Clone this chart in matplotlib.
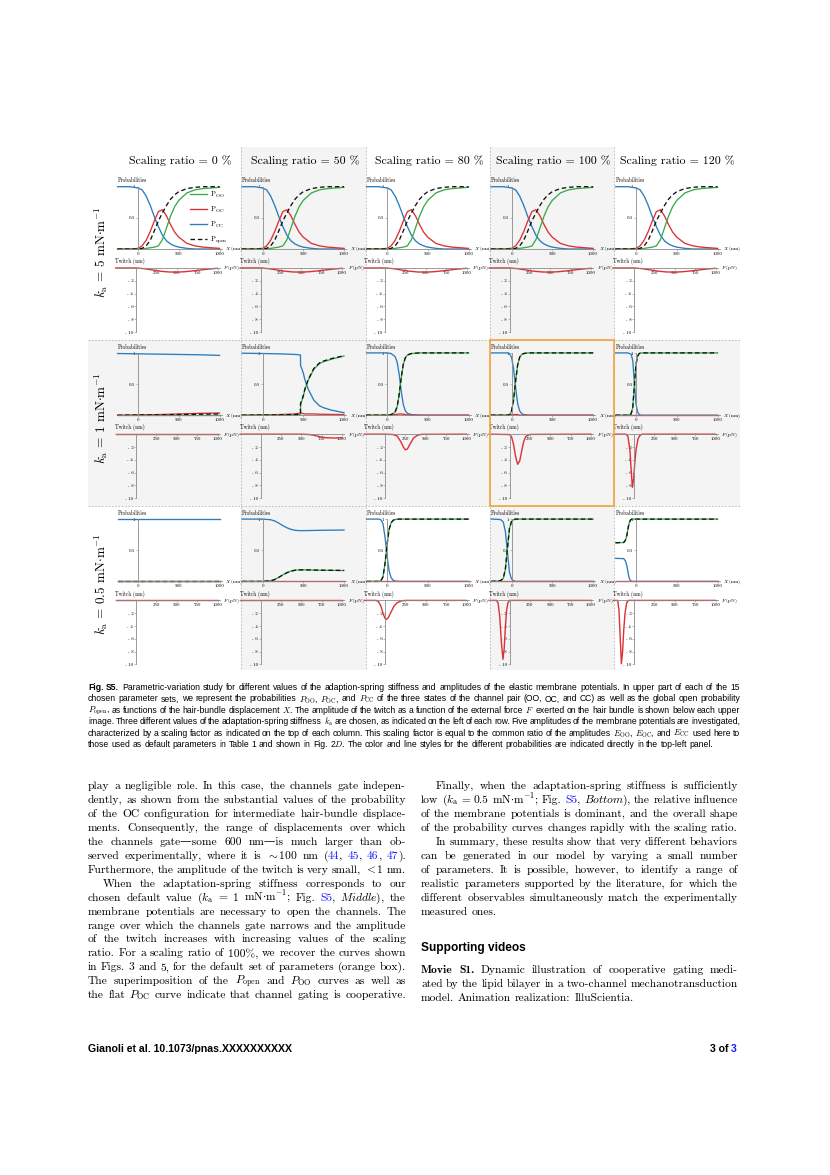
import re
import matplotlib
matplotlib.use("Agg")
import matplotlib.pyplot as plt
from matplotlib.lines import Line2D
from matplotlib.patches import Rectangle

plt.rcParams["font.family"] = ["cmr10", "DejaVu Serif"]
plt.rcParams["mathtext.fontset"] = "cm"
plt.rcParams["axes.formatter.use_mathtext"] = True
plt.rcParams["axes.unicode_minus"] = False

# -----------------------------------------------------------------------------
# DATA
# -----------------------------------------------------------------------------
SCALING = [0, 50, 80, 100, 120]
KA_LABELS = ["5", "1", "0.5"]

# k_a = 5 mN/m : the five scaling ratios look the same
X_K5 = [-250, -100, 0, 50, 100, 150, 200, 250, 300, 350, 400, 450, 500, 600, 700, 800, 900, 1000]
CC_K5 = [1.0, 1.0, 0.98, 0.95, 0.85, 0.70, 0.52, 0.36, 0.22, 0.13, 0.08, 0.05, 0.03, 0.01, 0.0, 0.0, 0.0, 0.0]
OC_K5 = [0.0, 0.0, 0.01, 0.05, 0.14, 0.28, 0.45, 0.60, 0.63, 0.53, 0.39, 0.27, 0.19, 0.09, 0.05, 0.03, 0.02, 0.01]
OO_K5 = [0.0, 0.0, 0.0, 0.0, 0.01, 0.02, 0.03, 0.05, 0.15, 0.34, 0.53, 0.68, 0.78, 0.90, 0.95, 0.97, 0.98, 0.99]
OPEN_K5 = [0.0, 0.0, 0.0, 0.01, 0.05, 0.14, 0.29, 0.45, 0.58, 0.70, 0.80, 0.87, 0.92, 0.97, 0.99, 1.0, 1.0, 1.0]
F_K5 = [-250, 0, 100, 200, 300, 400, 500, 600, 700, 800, 900, 1000]
TW_K5 = [0.0, 0.0, -0.1, -0.3, -0.5, -0.62, -0.65, -0.58, -0.45, -0.3, -0.15, -0.05]

# k_a = 1 mN/m
X_K1_0 = [-250, 0, 250, 500, 750, 1000]
CC_K1_0 = [0.99, 0.985, 0.98, 0.975, 0.97, 0.96]
OC_K1_0 = [0.0, 0.005, 0.01, 0.02, 0.03, 0.035]
OO_K1_0 = [0.0, 0.0, 0.0, 0.0, 0.0, 0.0]
OPEN_K1_0 = [0.0, 0.003, 0.006, 0.01, 0.015, 0.02]
F_K1_0 = [-250, 1000]
TW_K1_0 = [0.0, 0.0]

X_K1_50 = [-250, 0, 200, 400, 450, 466, 467, 500, 520, 560, 630, 700, 750, 850, 1000]
CC_K1_50 = [0.995, 0.99, 0.985, 0.975, 0.97, 0.965, 0.80, 0.68, 0.57, 0.42, 0.24, 0.15, 0.12, 0.08, 0.04]
OC_K1_50 = [0.0, 0.005, 0.01, 0.02, 0.03, 0.035, 0.04, 0.025, 0.02, 0.02, 0.02, 0.015, 0.015, 0.012, 0.01]
OO_K1_50 = [0.0, 0.0, 0.0, 0.0, 0.005, 0.01, 0.17, 0.30, 0.41, 0.56, 0.74, 0.83, 0.86, 0.90, 0.95]
OPEN_K1_50 = [0.0, 0.003, 0.005, 0.01, 0.015, 0.02, 0.19, 0.31, 0.42, 0.57, 0.75, 0.84, 0.87, 0.91, 0.955]
F_K1_50 = [-250, 500, 600, 650, 700, 750, 800, 900, 1000]
TW_K1_50 = [0.0, 0.0, -0.05, -0.15, -0.3, -0.45, -0.55, -0.6, -0.55]

X_K1_80 = [-250, 0, 50, 100, 125, 150, 175, 200, 225, 250, 300, 400, 1000]
CC_K1_80 = [1.0, 1.0, 0.99, 0.94, 0.85, 0.65, 0.38, 0.17, 0.07, 0.03, 0.01, 0.0, 0.0]
OC_K1_80 = [0.0, 0.0, 0.005, 0.01, 0.015, 0.02, 0.02, 0.015, 0.01, 0.005, 0.0, 0.0, 0.0]
OO_K1_80 = [0.0, 0.0, 0.005, 0.05, 0.135, 0.33, 0.60, 0.815, 0.92, 0.965, 0.99, 1.0, 1.0]
OPEN_K1_80 = [0.0, 0.0, 0.007, 0.055, 0.14, 0.34, 0.61, 0.82, 0.925, 0.968, 0.99, 1.0, 1.0]
F_K1_80 = [-250, 0, 100, 150, 200, 225, 250, 275, 300, 350, 400, 450, 1000]
TW_K1_80 = [0.0, 0.0, -0.05, -0.3, -1.3, -2.0, -2.45, -2.3, -1.7, -0.6, -0.15, -0.02, 0.0]

X_K1_100 = [-250, -50, -25, 0, 25, 50, 75, 100, 125, 150, 200, 1000]
CC_K1_100 = [1.0, 1.0, 0.99, 0.93, 0.75, 0.45, 0.19, 0.07, 0.025, 0.01, 0.0, 0.0]
OC_K1_100 = [0.0, 0.0, 0.005, 0.01, 0.01, 0.01, 0.01, 0.0, 0.0, 0.0, 0.0, 0.0]
OO_K1_100 = [0.0, 0.0, 0.005, 0.06, 0.24, 0.54, 0.80, 0.93, 0.975, 0.99, 1.0, 1.0]
OPEN_K1_100 = [0.0, 0.0, 0.007, 0.065, 0.245, 0.545, 0.805, 0.93, 0.975, 0.99, 1.0, 1.0]
F_K1_100 = [-250, 0, 25, 50, 75, 100, 125, 150, 175, 200, 250, 1000]
TW_K1_100 = [0.0, -0.05, -0.4, -1.6, -3.5, -4.7, -4.2, -2.6, -1.1, -0.35, -0.03, 0.0]

X_K1_120 = [-250, -100, -60, -40, -20, 0, 20, 40, 60, 100, 1000]
CC_K1_120 = [1.0, 1.0, 0.98, 0.88, 0.52, 0.18, 0.05, 0.01, 0.0, 0.0, 0.0]
OC_K1_120 = [0.0, 0.0, 0.0, 0.0, 0.0, 0.0, 0.0, 0.0, 0.0, 0.0, 0.0]
OO_K1_120 = [0.0, 0.0, 0.02, 0.12, 0.48, 0.82, 0.95, 0.99, 1.0, 1.0, 1.0]
OPEN_K1_120 = [0.0, 0.0, 0.02, 0.12, 0.48, 0.82, 0.95, 0.99, 1.0, 1.0, 1.0]
F_K1_120 = [-250, -100, -75, -50, -35, -20, -5, 10, 25, 50, 75, 100, 1000]
TW_K1_120 = [0.0, 0.0, -0.3, -2.5, -5.5, -8.3, -7.0, -4.5, -2.4, -0.7, -0.15, 0.0, 0.0]

# k_a = 0.5 mN/m
X_K05_0 = [-250, 1000]
CC_K05_0 = [1.0, 1.0]
OC_K05_0 = [0.0, 0.0]
OO_K05_0 = [0.0, 0.0]
OPEN_K05_0 = [0.0, 0.0]
F_K05_0 = [-250, 1000]
TW_K05_0 = [0.0, 0.0]

X_K05_50 = [-250, 0, 100, 150, 200, 250, 300, 350, 400, 450, 500, 600, 700, 800, 900, 1000]
CC_K05_50 = [1.0, 1.0, 0.99, 0.97, 0.935, 0.895, 0.86, 0.835, 0.82, 0.815, 0.815, 0.817, 0.82, 0.822, 0.823, 0.825]
OC_K05_50 = [0.0] * 16
OO_K05_50 = [0.0, 0.0, 0.01, 0.03, 0.065, 0.105, 0.14, 0.165, 0.18, 0.185, 0.185, 0.183, 0.18, 0.178, 0.177, 0.175]
OPEN_K05_50 = [0.0, 0.0, 0.01, 0.03, 0.065, 0.105, 0.14, 0.165, 0.18, 0.185, 0.185, 0.183, 0.18, 0.178, 0.177, 0.175]
F_K05_50 = [-250, 1000]
TW_K05_50 = [0.0, 0.0]

X_K05_80 = [-250, -100, -75, -50, -25, 0, 25, 50, 75, 100, 150, 1000]
CC_K05_80 = [1.0, 1.0, 0.99, 0.93, 0.72, 0.42, 0.17, 0.06, 0.02, 0.005, 0.0, 0.0]
OC_K05_80 = [0.0] * 12
OO_K05_80 = [0.0, 0.0, 0.01, 0.07, 0.28, 0.58, 0.83, 0.94, 0.98, 0.995, 1.0, 1.0]
OPEN_K05_80 = [0.0, 0.0, 0.01, 0.07, 0.28, 0.58, 0.83, 0.94, 0.98, 0.995, 1.0, 1.0]
F_K05_80 = [-250, -110, -80, -50, -25, 0, 15, 40, 75, 110, 150, 200, 250, 1000]
TW_K05_80 = [0.0, 0.0, -0.2, -0.9, -2.0, -2.8, -3.0, -2.7, -1.8, -0.9, -0.35, -0.08, 0.0, 0.0]

X_K05_100 = [-250, -150, -125, -100, -75, -50, -25, 0, 25, 50, 1000]
CC_K05_100 = [1.0, 0.995, 0.985, 0.95, 0.80, 0.47, 0.15, 0.04, 0.01, 0.0, 0.0]
OC_K05_100 = [0.0] * 11
OO_K05_100 = [0.0, 0.005, 0.015, 0.05, 0.20, 0.53, 0.85, 0.96, 0.99, 1.0, 1.0]
OPEN_K05_100 = [0.0, 0.01, 0.02, 0.055, 0.20, 0.53, 0.85, 0.96, 0.99, 1.0, 1.0]
F_K05_100 = [-250, -160, -140, -120, -100, -80, -65, -50, -35, -20, 0, 1000]
TW_K05_100 = [0.0, 0.0, -0.4, -2.5, -6.5, -9.2, -7.5, -4.0, -1.5, -0.4, 0.0, 0.0]

X_K05_120 = [-250, -150, -130, -110, -95, -80, -65, -50, 1000]
CC_K05_120 = [0.37, 0.365, 0.33, 0.24, 0.12, 0.04, 0.01, 0.0, 0.0]
OC_K05_120 = [0.0] * 9
OO_K05_120 = [0.62, 0.625, 0.66, 0.75, 0.87, 0.95, 0.99, 1.0, 1.0]
OPEN_K05_120 = [0.62, 0.625, 0.66, 0.75, 0.87, 0.95, 0.99, 1.0, 1.0]
F_K05_120 = [-250, -200, -185, -170, -155, -140, -125, -110, -90, -70, 1000]
TW_K05_120 = [0.0, 0.0, -1.5, -5.5, -9.9, -8.0, -4.5, -2.0, -0.4, 0.0, 0.0]

PROB_XTICKS = [0, 500, 1000]
PROB_XLABELS = ["0", "500", "1000"]
PROB_YTICKS = [0.5, 1.0]
PROB_YLABELS = ["0.5", "1"]
TW_XTICKS = [250, 500, 750, 1000]
TW_XLABELS = ["250", "500", "750", "1000"]
TW_YTICKS = [-2, -4, -6, -8, -10]
TW_YLABELS = ["- 2", "- 4", "- 6", "- 8", "- 10"]

# table of panels, row by row
K5 = (X_K5, CC_K5, OC_K5, OO_K5, OPEN_K5, F_K5, TW_K5)
CELLS = [
    [K5, K5, K5, K5, K5],
    [(X_K1_0, CC_K1_0, OC_K1_0, OO_K1_0, OPEN_K1_0, F_K1_0, TW_K1_0),
     (X_K1_50, CC_K1_50, OC_K1_50, OO_K1_50, OPEN_K1_50, F_K1_50, TW_K1_50),
     (X_K1_80, CC_K1_80, OC_K1_80, OO_K1_80, OPEN_K1_80, F_K1_80, TW_K1_80),
     (X_K1_100, CC_K1_100, OC_K1_100, OO_K1_100, OPEN_K1_100, F_K1_100, TW_K1_100),
     (X_K1_120, CC_K1_120, OC_K1_120, OO_K1_120, OPEN_K1_120, F_K1_120, TW_K1_120)],
    [(X_K05_0, CC_K05_0, OC_K05_0, OO_K05_0, OPEN_K05_0, F_K05_0, TW_K05_0),
     (X_K05_50, CC_K05_50, OC_K05_50, OO_K05_50, OPEN_K05_50, F_K05_50, TW_K05_50),
     (X_K05_80, CC_K05_80, OC_K05_80, OO_K05_80, OPEN_K05_80, F_K05_80, TW_K05_80),
     (X_K05_100, CC_K05_100, OC_K05_100, OO_K05_100, OPEN_K05_100, F_K05_100, TW_K05_100),
     (X_K05_120, CC_K05_120, OC_K05_120, OO_K05_120, OPEN_K05_120, F_K05_120, TW_K05_120)],
]

CAPTION = [
    r"*Fig. *S5. Parametric-variation study for different values of the adaption-spring stiffness and amplitudes of the elastic membrane potentials. In upper part of each of the 15",
    r"chosen parameter sets, we represent the probabilities $P_\mathrm{OO}$, $P_\mathrm{OC}$, and $P_\mathrm{CC}$ of the three states of the channel pair (OO, OC, and CC) as well as the global open probability",
    r"$P_\mathrm{open}$, as functions of the hair-bundle displacement $X$. The amplitude of the twitch as a function of the external force $F$ exerted on the hair bundle is shown below each upper",
    r"image. Three different values of the adaptation-spring stiffness $k_\mathrm{a}$ are chosen, as indicated on the left of each row. Five amplitudes of the membrane potentials are investigated,",
    r"characterized by a scaling factor as indicated on the top of each column. This scaling factor is equal to the common ratio of the amplitudes $E_\mathrm{OO}$, $E_\mathrm{OC}$, and $E_\mathrm{CC}$ used here to",
    r"those used as default parameters in Table 1 and shown in Fig. 2$D$. The color and line styles for the different probabilities are indicated directly in the top-left panel.",
]

LEFT_PARAS = [
    (False, [
        "play a negligible role. In this case, the channels gate indepen-",
        "dently, as shown from the substantial values of the probability",
        "of the OC configuration for intermediate hair-bundle displace-",
        "ments. Consequently, the range of displacements over which",
        "the channels gate\u2014some 600 nm\u2014is much larger than ob-",
        r"served experimentally, where it is $\sim$100 nm ([44], [45], [46], [47]).",
        r"Furthermore, the amplitude of the twitch is very small, $<$1 nm.",
    ]),
    (True, [
        "When the adaptation-spring stiffness corresponds to our",
        r"chosen default value ($k_\mathrm{a}$ = 1 mN$\cdot$m$^{-1}$; Fig. [S5], $\mathit{Middle}$), the",
        "membrane potentials are necessary to open the channels. The",
        "range over which the channels gate narrows and the amplitude",
        "of the twitch increases with increasing values of the scaling",
        "ratio. For a scaling ratio of 100%, we recover the curves shown",
        "in Figs. 3 and 5, for the default set of parameters (orange box).",
        r"The superimposition of the $P_\mathrm{open}$ and $P_\mathrm{OO}$ curves as well as",
        r"the flat $P_\mathrm{OC}$ curve indicate that channel gating is cooperative.",
    ]),
]
RIGHT_PARAS = [
    (True, [
        "Finally, when the adaptation-spring stiffness is sufficiently",
        r"low ($k_\mathrm{a}$ = 0.5 mN$\cdot$m$^{-1}$; Fig. [S5], $\mathit{Bottom}$), the relative influence",
        "of the membrane potentials is dominant, and the overall shape",
        "of the probability curves changes rapidly with the scaling ratio.",
    ]),
    (True, [
        "In summary, these results show that very different behaviors",
        "can be generated in our model by varying a small number",
        "of parameters. It is possible, however, to identify a range of",
        "realistic parameters supported by the literature, for which the",
        "different observables simultaneously match the experimentally",
        "measured ones.",
    ]),
]
MOVIE_LINES = [
    "*Movie *S1. Dynamic illustration of cooperative gating medi-",
    "ated by the lipid bilayer in a two-channel mechanotransduction",
    "model. Animation realization: IlluScientia.",
]

# -----------------------------------------------------------------------------
# LAYOUT (pixels)
# -----------------------------------------------------------------------------
W, H = 830, 1175
GREEN, RED, BLUE_C, BLACK = "#3aaa48", "#dd2f35", "#2a7cbc", "#111111"
LINKBLUE = "#1a1aff"
SERIF = ["cmr10", "DejaVu Serif"]
SANS = ["Liberation Sans", "DejaVu Sans"]

fig = plt.figure(figsize=(W / 100, H / 100), dpi=100)


def fx(x):
    return x / W


def fy(y):
    return 1 - y / H


COL_EDGES = [88, 241.3, 365.8, 490, 614, 740]
ROW_EDGES = [147, 339.5, 506, 670]
GRAY_CELLS = [(0, 1), (0, 3), (1, 0), (1, 1), (1, 2), (1, 3), (1, 4), (2, 1), (2, 3)]

for r, c in GRAY_CELLS:
    x0, x1 = COL_EDGES[c], COL_EDGES[c + 1]
    y0, y1 = ROW_EDGES[r], ROW_EDGES[r + 1]
    fig.add_artist(Rectangle((fx(x0), fy(y1)), (x1 - x0) / W, (y1 - y0) / H,
                             transform=fig.transFigure, facecolor="#f3f4f3",
                             edgecolor="none", zorder=-5))

for x in COL_EDGES[1:-1]:
    fig.add_artist(Line2D([fx(x), fx(x)], [fy(ROW_EDGES[0]), fy(ROW_EDGES[-1])],
                          transform=fig.transFigure, color="#b4b4b4", lw=0.6,
                          ls=(0, (2, 2)), zorder=-4))
for y in ROW_EDGES[1:-1]:
    fig.add_artist(Line2D([fx(COL_EDGES[0]), fx(COL_EDGES[-1])], [fy(y), fy(y)],
                          transform=fig.transFigure, color="#b4b4b4", lw=0.6,
                          ls=(0, (2, 2)), zorder=-4))

# orange box: default parameters
fig.add_artist(Rectangle((fx(COL_EDGES[3]), fy(ROW_EDGES[2])),
                         (COL_EDGES[4] - COL_EDGES[3]) / W,
                         (ROW_EDGES[2] - ROW_EDGES[1]) / H,
                         transform=fig.transFigure, facecolor="none",
                         edgecolor="#f5a33a", lw=1.2, zorder=6))

S = 0.0815           # px per nm
XMIN, XMAX = -250, 1030
ROW_STEP = 166.2
COL_STEP = 124.5
TICK_SIZE = 3.5


def style_axes(ax, xt, xl, yt, yl):
    ax.patch.set_visible(False)
    ax.spines["top"].set_visible(False)
    ax.spines["right"].set_visible(False)
    ax.spines["bottom"].set_position(("data", 0))
    ax.spines["left"].set_position(("data", 0))
    for s in ("bottom", "left"):
        ax.spines[s].set_color("#8a8a8a")
        ax.spines[s].set_linewidth(0.6)
    ax.set_xticks(xt, xl)
    ax.set_yticks(yt, yl)
    ax.tick_params(length=1.2, width=0.4, color="#8a8a8a", labelsize=TICK_SIZE, pad=0.8)


legend_handles = None
for r in range(3):
    for c in range(5):
        xs, cc, oc, oo, po, fs, tw = CELLS[r][c]
        x0 = 138 + COL_STEP * c
        top = 186.7 + ROW_STEP * r
        ax = fig.add_axes([fx(x0 + XMIN * S), fy(top + 62.3),
                           (XMAX - XMIN) * S / W, 62.3 / H])
        ax.set_xlim(XMIN, XMAX)
        ax.set_ylim(0, 1)
        style_axes(ax, PROB_XTICKS, PROB_XLABELS, PROB_YTICKS, PROB_YLABELS)
        lb, = ax.plot(xs, cc, color=BLUE_C, lw=0.95, clip_on=False)
        lr, = ax.plot(xs, oc, color=RED, lw=0.95, clip_on=False)
        lg, = ax.plot(xs, oo, color=GREEN, lw=0.95, clip_on=False)
        lk, = ax.plot(xs, po, color=BLACK, lw=0.95, ls=(0, (3.4, 2.2)), clip_on=False)
        ax.text(-252, 1.07, "Probabilities", fontsize=3.8, va="baseline")
        ax.text(1068, 0, "$X$ (nm)", fontsize=3.6, va="center")
        if r == 0 and c == 0:
            legend_handles = [lg, lr, lb, lk]

        axt = fig.add_axes([fx(x0 - 2 + XMIN * S), fy(268 + ROW_STEP * r + 64),
                            (XMAX - XMIN) * S / W, 64 / H])
        axt.set_xlim(XMIN, XMAX)
        axt.set_ylim(-10, 0)
        style_axes(axt, TW_XTICKS, TW_XLABELS, TW_YTICKS, TW_YLABELS)
        axt.plot(fs, tw, color=RED, lw=1.0, clip_on=False)
        axt.text(-252, 0.75, "Twitch (nm)", fontsize=3.8, va="baseline")
        axt.text(1068, 0, "$F$ (pN)", fontsize=3.6, va="center")

fig.legend(legend_handles,
           [r"P$_\mathrm{OO}$", r"P$_\mathrm{OC}$", r"P$_\mathrm{CC}$", r"P$_\mathrm{open}$"],
           loc="upper left", bbox_to_anchor=(fx(190), fy(190)), frameon=False,
           fontsize=5.2, handlelength=2.3, handletextpad=0.5, labelspacing=0.62,
           borderpad=0, borderaxespad=0)

for c, s in enumerate(SCALING):
    fig.text(fx(180.5 + 124.3 * c), fy(164), f"Scaling ratio = {s} %",
             ha="center", va="baseline", fontsize=8.6)

for r, k in enumerate(KA_LABELS):
    fig.text(fx(101), fy(252 + ROW_STEP * r),
             r"$k_\mathrm{a}$ = " + k + r" mN$\cdot$m$^{-1}$",
             rotation=90, ha="center", va="center", fontsize=9.5)

# -----------------------------------------------------------------------------
# TEXT BLOCKS (justified word by word)
# -----------------------------------------------------------------------------
renderer = fig.canvas.get_renderer()


def text_line(xl, xr, y, line, family, size, justify, bold_kw, space_em=0.33):
    words = []
    for w in line.split(" "):
        bold = w.startswith("*")
        if bold:
            w = w[1:]
        arts = []
        for p in re.split(r"(\[[^\]]*\])", w):
            if not p:
                continue
            color = "black"
            if p.startswith("["):
                p, color = p[1:-1], LINKBLUE
            kw = dict(family=family, fontsize=size, color=color)
            if bold:
                kw.update(bold_kw)
            arts.append(fig.text(0, fy(y), p, va="baseline", ha="left", **kw))
        words.append(arts)
    widths = [sum(a.get_window_extent(renderer).width for a in arts) for arts in words]
    space = space_em * size * 100 / 72
    if justify and len(words) > 1:
        gap = max((xr - xl - sum(widths)) / (len(words) - 1), 0.5 * space)
    else:
        gap = space
    x = xl
    for arts in words:
        for a in arts:
            a.set_x(fx(x))
            x += a.get_window_extent(renderer).width
        x += gap


# caption
for i, line in enumerate(CAPTION):
    text_line(88, 740, 690 + 11.4 * i, line, SANS, 6.2, i < len(CAPTION) - 1,
              dict(weight="bold"), space_em=0.28)

BODY_SIZE = 8.3
LINE_STEP = 13.95


def paragraphs(paras, xl, xr, y):
    for indent, lines in paras:
        for i, line in enumerate(lines):
            x0 = xl + (15 if indent and i == 0 else 0)
            last = i == len(lines) - 1
            full = last and len(line) > 58
            text_line(x0, xr, y, line, SERIF, BODY_SIZE, (not last) or full, {})
            y += LINE_STEP
    return y


paragraphs(LEFT_PARAS, 88, 406, 789)
paragraphs(RIGHT_PARAS, 421, 738, 789)

fig.text(fx(421), fy(951.5), "Supporting videos", family=SANS, weight="bold",
         fontsize=8.6, va="baseline")
for i, line in enumerate(MOVIE_LINES):
    text_line(421, 738, 973 + LINE_STEP * i, line, SERIF, BODY_SIZE,
              i < len(MOVIE_LINES) - 1, dict(family=["cmb10", "DejaVu Serif"]))

# footer
fig.text(fx(88), fy(1051.5), "Gianoli et al. 10.1073/pnas.XXXXXXXXXX", family=SANS,
         weight="bold", fontsize=7.6, va="baseline")
t3 = fig.text(fx(737), fy(1051.5), "3", family=SANS, weight="bold", fontsize=7.6,
              va="baseline", ha="right", color=LINKBLUE)
w3 = t3.get_window_extent(renderer).width
fig.text(fx(737 - w3), fy(1051.5), "3 of ", family=SANS, weight="bold", fontsize=7.6,
         va="baseline", ha="right")

fig.savefig("out.png", dpi=100)
